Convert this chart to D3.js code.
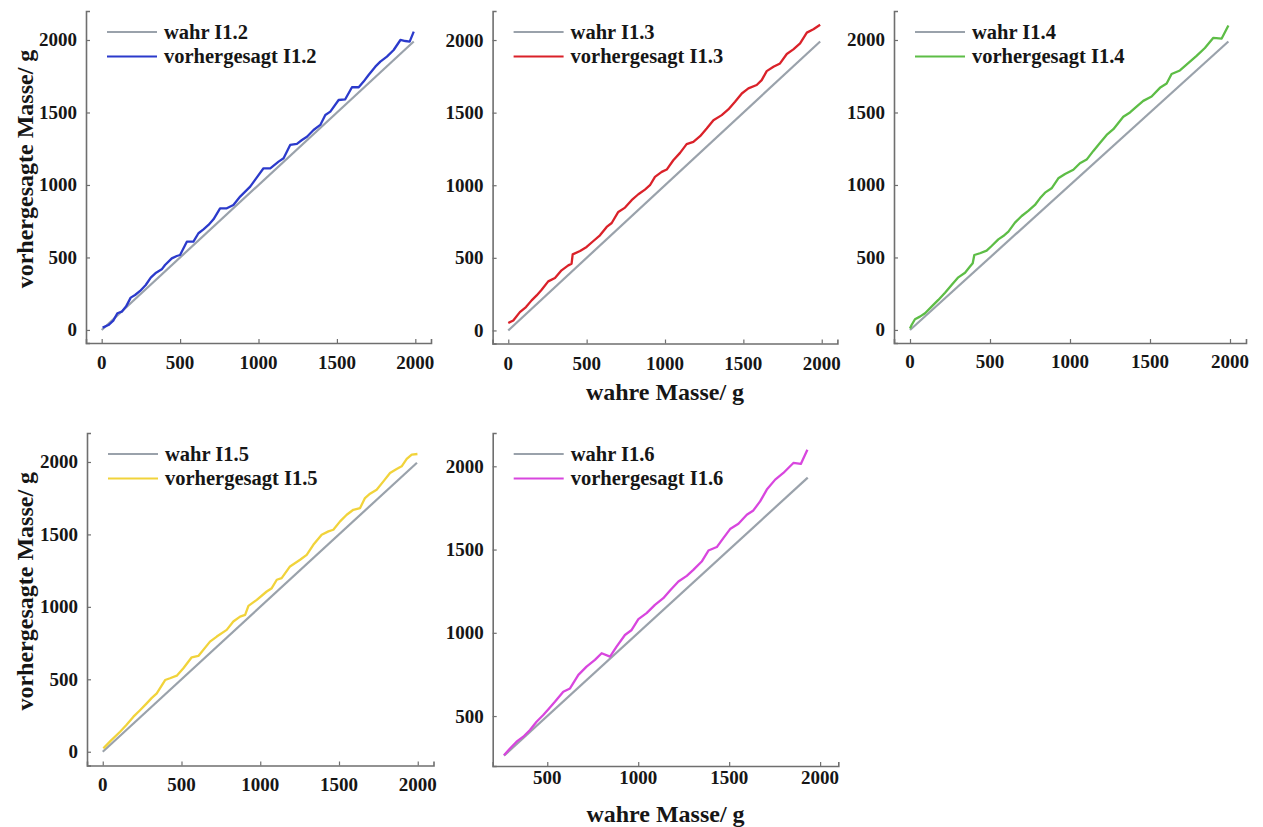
<!DOCTYPE html>
<html>
<head>
<meta charset="utf-8">
<script src="https://cdn.jsdelivr.net/npm/d3@7"></script>
<style>
  body { margin: 0; background: #fff; }
  svg { display: block; }
  text { font-family: "Liberation Serif", "Times New Roman", serif; font-weight: bold; fill: #161616; }
</style>
</head>
<body>
<svg id="chart" width="1263" height="827"></svg>
<script>
// Tick values
const ticksFull = [0, 500, 1000, 1500, 2000];
const ticksFrom500 = [500, 1000, 1500, 2000];

// Text
const seriesNames = ["I1.2", "I1.3", "I1.4", "I1.5", "I1.6"];
const trueLabel = "wahr";
const predLabel = "vorhergesagt";
const xTitle = "wahre Masse/ g";
const yTitle = "vorhergesagte Masse/ g";

// True mass range covered by each test run (g)
const trueRange12 = [0, 1990];
const trueRange13 = [0, 1990];
const trueRange14 = [0, 1990];
const trueRange15 = [0, 1995];
const trueRange16 = [262, 1932];

// I1.2: true mass (g) and predicted mass (g)
const mass12 = [6,43,74,100,128,155,185,213,245,281,313,347,383,404,447,479,500,543,585,617,649,681,713,755,798,840,883,915,947,985,1032,1075,1128,1160,1202,1245,1277,1309,1351,1394,1426,1458,1511,1553,1596,1639,1670,1702,1745,1777,1819,1862,1905,1936,1964,1990];
const pred12 = [16,34,64,115,126,161,223,241,269,310,361,395,418,448,494,510,517,609,609,667,694,724,763,839,839,862,920,954,989,1046,1115,1115,1161,1184,1276,1283,1310,1333,1379,1414,1483,1506,1586,1591,1674,1674,1713,1759,1816,1851,1885,1931,2000,1993,1989,2058];

// I1.3
const mass13 = [0,32,74,113,149,181,213,255,298,340,383,404,411,458,500,543,585,628,660,702,745,787,830,872,904,936,979,1011,1053,1096,1138,1181,1224,1266,1309,1362,1404,1447,1490,1532,1585,1617,1649,1692,1734,1777,1819,1862,1905,1947,1990];
const pred13 = [51,69,126,161,207,241,280,338,361,414,448,460,524,547,575,616,655,713,740,816,846,897,938,970,1000,1058,1092,1108,1172,1223,1283,1299,1338,1391,1448,1483,1522,1575,1632,1667,1690,1724,1786,1816,1839,1904,1936,1977,2051,2074,2105];

// I1.4
const mass14 = [0,10,31,62,94,135,177,219,260,302,344,375,392,402,437,479,510,552,583,615,656,698,739,781,812,844,885,927,969,1021,1062,1104,1146,1187,1229,1271,1333,1375,1416,1458,1510,1562,1604,1635,1687,1739,1791,1843,1896,1948,1990];
const pred14 = [10,34,74,92,115,161,207,257,310,363,395,437,460,517,529,547,579,625,648,678,740,786,821,862,908,947,977,1046,1076,1105,1150,1175,1235,1290,1345,1385,1470,1500,1540,1580,1610,1670,1700,1765,1790,1840,1890,1945,2015,2010,2100];

// I1.5
const mass15 = [4,50,110,150,195,235,279,310,343,396,427,470,512,565,607,681,724,787,829,872,904,925,978,1041,1073,1105,1136,1189,1253,1295,1337,1390,1433,1464,1507,1549,1591,1634,1665,1697,1739,1782,1824,1866,1898,1930,1962,1998];
const pred15 = [23,75,138,185,242,285,334,370,403,495,507,525,576,652,661,760,795,841,899,933,945,1007,1048,1106,1129,1187,1198,1279,1325,1359,1428,1498,1521,1532,1590,1636,1670,1682,1751,1781,1809,1866,1924,1951,1970,2021,2051,2055];

// I1.6
const mass16 = [262,295,331,368,405,441,478,505,542,588,625,671,716,762,799,845,881,927,964,1001,1046,1092,1138,1175,1221,1267,1303,1349,1386,1432,1468,1505,1551,1597,1633,1670,1707,1753,1798,1853,1894,1930];
const pred16 = [265,305,346,376,416,466,506,540,586,646,666,747,797,837,877,857,917,987,1017,1082,1118,1168,1208,1254,1308,1342,1378,1428,1494,1515,1569,1623,1655,1709,1735,1789,1860,1920,1960,2020,2014,2100];

// Line colours
const trueColor = "#9aa2ab";
const predColors = ["#2b3acb", "#da2129", "#5dbd46", "#f1d33b", "#d846de"];

// Panel layout (pixel boxes) and axis domains
const panels = [
  { name: seriesNames[0], mass: mass12, pred: pred12, range: trueRange12, color: predColors[0],
    box: { l: 86, r: 431, t: 11, b: 343 }, xd: [-100, 2100], yd: [-90, 2200],
    xt: ticksFull, yt: ticksFull, xLab: 26, showY: true, showX: false },
  { name: seriesNames[1], mass: mass13, pred: pred13, range: trueRange13, color: predColors[1],
    box: { l: 492.6, r: 837.4, t: 11, b: 343.5 }, xd: [-100, 2100], yd: [-90, 2200],
    xt: ticksFull, yt: ticksFull, xLab: 26, showY: false, showX: true },
  { name: seriesNames[2], mass: mass14, pred: pred14, range: trueRange14, color: predColors[2],
    box: { l: 894, r: 1246, t: 11, b: 343 }, xd: [-100, 2100], yd: [-90, 2200],
    xt: ticksFull, yt: ticksFull, xLab: 25, showY: false, showX: false },
  { name: seriesNames[3], mass: mass15, pred: pred15, range: trueRange15, color: predColors[3],
    box: { l: 87, r: 433.5, t: 433, b: 765.5 }, xd: [-100, 2100], yd: [-95, 2200],
    xt: ticksFull, yt: ticksFull, xLab: 25.5, showY: true, showX: false },
  { name: seriesNames[4], mass: mass16, pred: pred16, range: trueRange16, color: predColors[4],
    box: { l: 492.7, r: 838.3, t: 433, b: 766 }, xd: [200, 2100], yd: [200, 2200],
    xt: ticksFrom500, yt: ticksFrom500, xLab: 17.5, showY: false, showX: true }
];

const svg = d3.select("#chart");
const axisColor = "#6f6f6f";

panels.forEach(p => {
  const { l, r, t, b } = p.box;
  const x = d3.scaleLinear().domain(p.xd).range([l, r]);
  const y = d3.scaleLinear().domain(p.yd).range([b, t]);
  const g = svg.append("g");

  // axes: left and bottom spines with short inward ticks
  const xAxis = d3.axisBottom(x).tickValues(p.xt).tickSize(-4).tickPadding(0).tickFormat("");
  const yAxis = d3.axisLeft(y).tickValues(p.yt).tickSize(-4).tickPadding(0).tickFormat("");
  const gx = g.append("g").attr("transform", `translate(0,${b})`).call(xAxis);
  const gy = g.append("g").attr("transform", `translate(${l},0)`).call(yAxis);
  [gx, gy].forEach(a => {
    a.select(".domain").attr("stroke", axisColor).attr("stroke-width", 1.6);
    a.selectAll(".tick line").attr("stroke", axisColor).attr("stroke-width", 1.2);
  });

  // tick labels
  g.selectAll(".xl").data(p.xt).join("text")
    .attr("x", d => x(d)).attr("y", b + p.xLab)
    .attr("text-anchor", "middle").attr("font-size", 19).text(d => d);
  g.selectAll(".yl").data(p.yt).join("text")
    .attr("x", l - 9).attr("y", d => y(d) + 6.5)
    .attr("text-anchor", "end").attr("font-size", 19).text(d => d);

  // reference line: predicted = true
  const line = d3.line().x(d => x(d[0])).y(d => y(d[1]));
  g.append("path")
    .datum(p.range.map(v => [v, v]))
    .attr("d", line).attr("fill", "none")
    .attr("stroke", trueColor).attr("stroke-width", 2.2);

  // predicted mass series
  g.append("path")
    .datum(p.mass.map((m, i) => [m, p.pred[i]]))
    .attr("d", line).attr("fill", "none")
    .attr("stroke", p.color).attr("stroke-width", 2.3)
    .attr("stroke-linejoin", "round");

  // legend
  const lx = l + 21, ly = t + 21;
  const items = [
    { text: `${trueLabel} ${p.name}`, color: trueColor },
    { text: `${predLabel} ${p.name}`, color: p.color }
  ];
  items.forEach((it, i) => {
    const yy = ly + i * 24.5;
    g.append("line").attr("x1", lx).attr("x2", lx + 50).attr("y1", yy).attr("y2", yy)
      .attr("stroke", it.color).attr("stroke-width", 2.2);
    g.append("text").attr("x", lx + 57).attr("y", yy + 6.5)
      .attr("font-size", 20.5).text(it.text);
  });

  // axis titles
  if (p.showX) {
    g.append("text").attr("x", (l + r) / 2).attr("y", b + 56)
      .attr("text-anchor", "middle").attr("font-size", 24).text(xTitle);
  }
  if (p.showY) {
    const cy = (t + b) / 2 - 8;
    g.append("text").attr("transform", `translate(33,${cy}) rotate(-90)`)
      .attr("text-anchor", "middle").attr("font-size", 24).text(yTitle);
  }
});
</script>
</body>
</html>
